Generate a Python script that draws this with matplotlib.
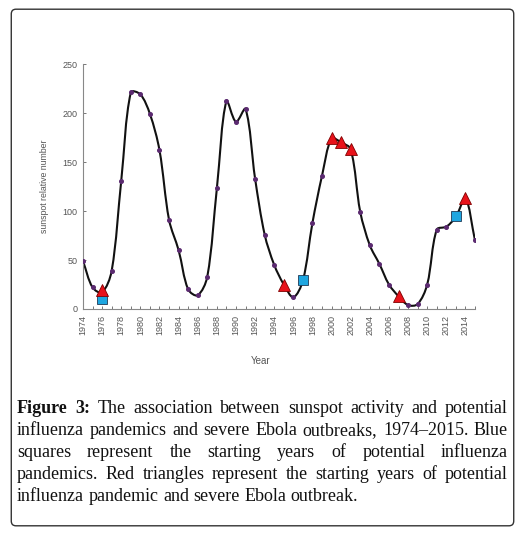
# -*- coding: utf-8 -*-
# sunspot number 1974-2015 with flu pandemic / Ebola start years

import numpy as np
import matplotlib
matplotlib.use('Agg')
import matplotlib.pyplot as plt
from matplotlib.path import Path
from matplotlib.patches import PathPatch, FancyBboxPatch

years = list(range(1974, 2016))
sunspots = [49, 22, 17, 39, 131, 221, 219, 199, 162, 91,
            60, 20, 14, 33, 123, 212, 191, 204, 133, 76,
            45, 25, 12, 29, 88, 136, 174, 170, 163, 99,
            65, 46, 25, 13, 4, 5, 25, 81, 84, 94,
            113, 70]

# red triangles: flu pandemic + severe Ebola outbreak
ebola_years = [1976, 1995, 2000, 2001, 2002, 2007, 2014]
ebola_values = [19, 25, 174, 170, 163, 13, 113]

# blue squares: potential influenza pandemics
flu_years = [1976, 1997, 2013]
flu_values = [10, 30, 95]

tick_labels = [str(y) if (y - 1974) % 2 == 0 else '' for y in years]
y_ticks = [0, 50, 100, 150, 200, 250]

W, H = 525, 533
fig = plt.figure(figsize=(W / 100, H / 100), dpi=100)
ax = fig.add_axes([83 / W, 1 - 309 / H, (475 - 83) / W, (309 - 64) / H])

# smoothed line like excel: bezier with chord-length scaled tangents,
# computed in screen-like units so short segments don't overshoot
sx, sy = 392 / 41, 245 / 250
pts = np.column_stack([years, sunspots]).astype(float) * [sx, sy]
n = len(pts)
d = np.hypot(*np.diff(pts, axis=0).T)
verts = [pts[0]]
codes = [Path.MOVETO]
for i in range(n - 1):
    p1, p2 = pts[i], pts[i + 1]
    if i > 0:
        m1 = (p2 - pts[i - 1]) / (d[i - 1] + d[i])
    else:
        m1 = (p2 - p1) / d[i]
    if i + 2 < n:
        m2 = (pts[i + 2] - p1) / (d[i] + d[i + 1])
    else:
        m2 = (p2 - p1) / d[i]
    verts += [p1 + m1 * d[i] / 3, p2 - m2 * d[i] / 3, p2]
    codes += [Path.CURVE4] * 3
verts = np.array(verts) / [sx, sy]
ax.add_patch(PathPatch(Path(verts, codes), fill=False, lw=1.5, color='#111111', zorder=2))

ax.plot(years, sunspots, 'o', ms=2.6, color='#5b2a70', ls='none', zorder=3)
ax.plot(flu_years, flu_values, 's', ms=6.5, mfc='#1ea6e0', mec='#203a55', mew=0.6,
        ls='none', zorder=4)
ax.plot(ebola_years, ebola_values, '^', ms=8, mfc='#e8121a', mec='#800000', mew=0.6,
        ls='none', zorder=5)

ax.set_xlim(1974, 2015)
ax.set_ylim(0, 250)
ax.set_xticks(years)
ax.set_xticklabels(tick_labels, rotation=90, fontsize=6.5, color='#555555',
                   family='Liberation Sans')
ax.set_yticks(y_ticks)
ax.set_yticklabels([str(v) for v in y_ticks], fontsize=6.5, color='#555555',
                   family='Liberation Sans')
ax.tick_params(direction='in', length=2.5, width=0.7, color='#777777', pad=4)

for s in ['top', 'right']:
    ax.spines[s].set_visible(False)
for s in ['left', 'bottom']:
    ax.spines[s].set_color('#888888')
    ax.spines[s].set_linewidth(0.8)

ax.set_ylabel('sunspot relative number', fontsize=6.3, color='#555555', family='Liberation Sans')
ax.yaxis.set_label_coords(-0.088, 0.5)
ax.set_xlabel('Year', fontsize=7, color='#555555', family='Liberation Sans')
ax.xaxis.set_label_coords(0.454, -0.19)

# outer rounded frame
fig.patches.append(FancyBboxPatch((16 / W, 12 / H), (509 - 16) / W, (519 - 12) / H,
                                  boxstyle='round,pad=0.009', transform=fig.transFigure,
                                  fill=False, lw=1.0, ec='#333333'))

# justified caption
lines = [
    [('Figure', True), ('3:', True), ('The', False), ('association', False), ('between', False),
     ('sunspot', False), ('activity', False), ('and', False), ('potential', False)],
    [(w, False) for w in 'influenza pandemics and severe Ebola outbreaks, 1974\u20132015. Blue'.split()],
    [(w, False) for w in 'squares represent the starting years of potential influenza'.split()],
    [(w, False) for w in 'pandemics. Red triangles represent the starting years of potential'.split()],
    [(w, False) for w in 'influenza pandemic and severe Ebola outbreak.'.split()],
]
baselines = [413, 435, 457, 479, 501]
x_left, x_right = 17, 508
renderer = fig.canvas.get_renderer()
for k, (words, base) in enumerate(zip(lines, baselines)):
    texts = []
    for w, bold in words:
        t = fig.text(0, 1 - base / H, w, fontsize=13, family='Liberation Serif',
                     weight='bold' if bold else 'normal', va='baseline', ha='left',
                     color='#111111')
        texts.append(t)
    widths = [t.get_window_extent(renderer).width for t in texts]
    if k == len(lines) - 1:
        gap = 4.5
    else:
        gap = (x_right - x_left - sum(widths)) / (len(texts) - 1)
    x = x_left
    for t, w in zip(texts, widths):
        t.set_x(x / W)
        x += w + gap

fig.savefig('out.png', dpi=100)
